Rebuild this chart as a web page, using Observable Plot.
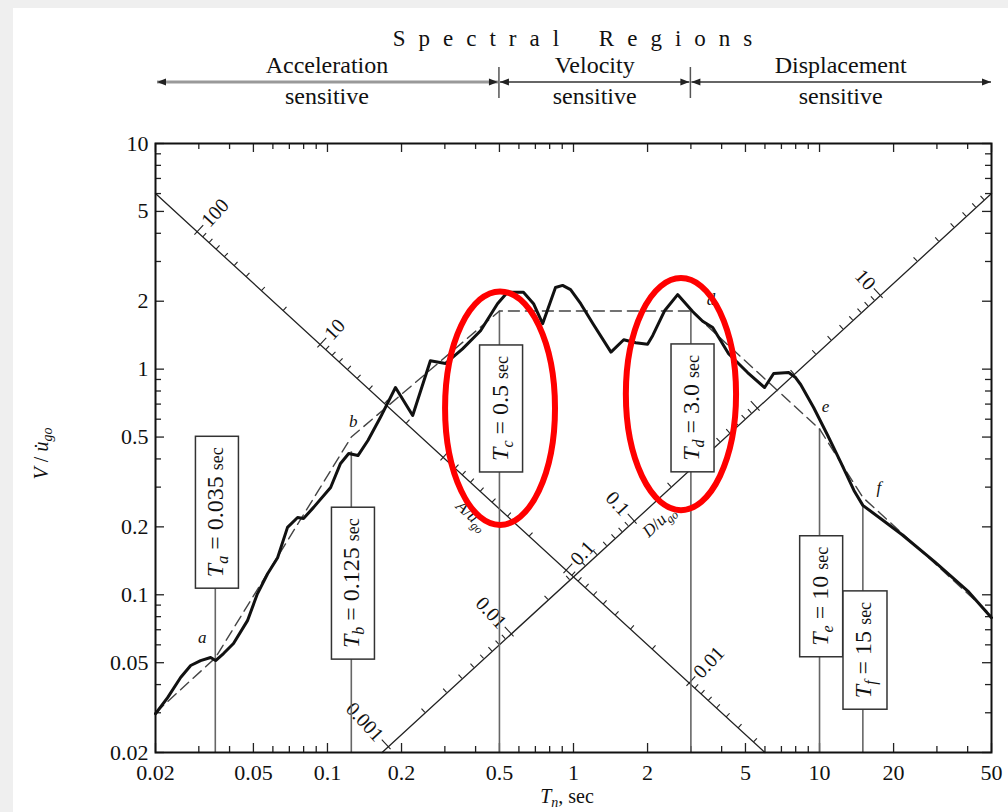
<!DOCTYPE html>
<html>
<head>
<meta charset="utf-8">
<script src="https://cdn.jsdelivr.net/npm/d3@7"></script>
<script src="https://cdn.jsdelivr.net/npm/@observablehq/plot@0.6"></script>
<style>
  html, body { margin: 0; padding: 0; background: #efefef; }
  #page { position: relative; width: 1008px; height: 812px; overflow: hidden; }
  #panel { position: absolute; left: 13px; top: 8px; right: 0; bottom: 0; background: #fff; }
  #chart { position: absolute; left: 0; top: 0; }
  #chart svg text { font-family: 'Liberation Serif', 'Times New Roman', Times, serif; }
</style>
</head>
<body>
<div id="page"><div id="panel"></div><div id="chart"></div></div>
<script>
// ---- Axis ticks ----
const periodTicks = [0.02, 0.05, 0.1, 0.2, 0.5, 1, 2, 5, 10, 20, 50];
const periodMinorTicks = [0.03, 0.04, 0.06, 0.07, 0.08, 0.09, 0.3, 0.4, 0.6, 0.7, 0.8, 0.9, 3, 4, 6, 7, 8, 9, 30, 40];
const velocityTicks = [0.02, 0.05, 0.1, 0.2, 0.5, 1, 2, 5, 10];
const velocityMinorTicks = [0.03, 0.04, 0.06, 0.07, 0.08, 0.09, 0.3, 0.4, 0.6, 0.7, 0.8, 0.9, 3, 4, 6, 7, 8, 9];

// ---- Pseudo-velocity response spectrum, V / u̇go against Tn (sec) ----
const spectrumT = [0.020, 0.0224, 0.0253, 0.0278, 0.0305, 0.0335, 0.0351, 0.0378, 0.0415, 0.0473,
  0.0519, 0.0571, 0.0627, 0.0688, 0.0756, 0.0799, 0.0878, 0.103, 0.113, 0.122,
  0.133, 0.146, 0.164, 0.189, 0.222, 0.262, 0.302, 0.354, 0.419, 0.491,
  0.539, 0.626, 0.688, 0.749, 0.845, 0.903, 0.973, 1.07, 1.20, 1.42,
  1.60, 1.79, 2.00, 2.10, 2.35, 2.65, 3.05, 3.35, 3.68, 4.27,
  5.10, 5.98, 6.51, 7.49, 7.99, 8.38, 9.46, 10.8, 12.2, 13.8,
  15.0, 18.2, 21.6, 29.4, 40.4, 50.0];
const spectrumV = [0.0297, 0.0350, 0.0430, 0.0486, 0.0511, 0.0527, 0.0511, 0.0549, 0.0608, 0.0768,
  0.101, 0.124, 0.146, 0.199, 0.220, 0.218, 0.244, 0.299, 0.382, 0.423,
  0.414, 0.483, 0.610, 0.829, 0.623, 1.09, 1.06, 1.23, 1.48, 1.95,
  2.19, 2.19, 1.95, 1.59, 2.30, 2.35, 2.25, 1.95, 1.59, 1.19,
  1.35, 1.31, 1.29, 1.41, 1.82, 2.14, 1.80, 1.63, 1.53, 1.17,
  0.966, 0.829, 0.956, 0.966, 0.918, 0.855, 0.676, 0.508, 0.386, 0.290,
  0.249, 0.213, 0.185, 0.140, 0.103, 0.0792];

// ---- Idealized spectrum (dashed) ----
const idealT = [0.02, 0.035, 0.125, 0.5, 3.0, 10, 15, 50];
const idealV = [0.030, 0.0525, 0.50, 1.81, 1.81, 0.543, 0.27, 0.081];

// ---- Corner periods a–f ----
const cornerNames = ["a", "b", "c", "d", "e", "f"];
const cornerT = [0.035, 0.125, 0.5, 3.0, 10, 15];
const cornerLabels = ["0.035", "0.125", "0.5", "3.0", "10", "15"];
const cornerRuleTop = [0.231, 0.43, 1.81, 1.81, 0.543, 0.25];
const cornerBoxV = [0.231, 0.112, 0.666, 0.67, 0.098, 0.0566];
const cornerLetterShown = [true, true, false, true, true, true];
const cornerLetterDx = [-13, 2, 0, 20, 6, 16];
const cornerLetterDy = [-20, -16, 0, -11, -22, -10];

// ---- Tripartite diagonal axes ----
const accelAxisT = [0.02, 6.0];
const accelAxisV = [6.0, 0.02];
const dispAxisT = [0.1667, 50];
const dispAxisV = [0.02, 6.0];
const axisLineK = 0.12;     // V / u̇go on the diagonals is 0.12/T or 0.12·T
const accelK = 0.088;       // A/ügo · T² along the descending diagonal
const dispK = 0.032;        // D/ugo / T² along the ascending diagonal
const accelLabels = [100, 10, 0.1, 0.01];
const dispLabels = [0.001, 0.01, 0.1, 10];

// ---- Spectral regions ----
const regionNames = ["Acceleration", "Velocity", "Displacement"];
const regionStart = [0.02, 0.5, 3];
const regionEnd = [0.5, 3, 50];

// ---- Highlighted corner periods ----
const highlightT0 = [0.302, 1.64];
const highlightT1 = [0.845, 4.60];
const highlightVTop = [2.20, 2.52];
const highlightVBottom = [0.203, 0.236];

const SERIF = "'Liberation Serif', 'Times New Roman', Times, serif";
const W = 1008, H = 812;
const M = {top: 143, right: 17, bottom: 60, left: 155};
const innerH = H - M.top - M.bottom;
const innerW = W - M.left - M.right;

const spectrum = spectrumT.map((T, i) => ({T, V: spectrumV[i]}));
const ideal = idealT.map((T, i) => ({T, V: idealV[i]}));
const corners = cornerNames.map((name, i) => ({
  name, T: cornerT[i], label: cornerLabels[i], top: cornerRuleTop[i], boxV: cornerBoxV[i], idealV: idealV[i + 1]
}));
const accelAxis = accelAxisT.map((T, i) => ({T, V: accelAxisV[i]}));
const dispAxis = dispAxisT.map((T, i) => ({T, V: dispAxisV[i]}));

// log ticks 1..9 × 10^k inside [lo, hi]
function logTicks(lo, hi) {
  const out = [];
  for (let e = -4; e <= 3; e++) for (let m = 1; m <= 9; m++) {
    const v = +(m * Math.pow(10, e)).toPrecision(3);
    if (v >= lo * 0.9999 && v <= hi * 1.0001) out.push(v);
  }
  return out;
}
const isDecade = (v) => Math.abs(Math.log10(v) - Math.round(Math.log10(v))) < 1e-6;

// Diagonal axes: ticks, numbers and names
function tripartite(index, {x, y}) {
  const g = d3.create("svg:g").attr("font-family", SERIF);
  function frameOf(T, V) {
    const p0 = [x(T[0]), y(V[0])], p1 = [x(T[1]), y(V[1])];
    const L = Math.hypot(p1[0] - p0[0], p1[1] - p0[1]);
    const u = [(p1[0] - p0[0]) / L, (p1[1] - p0[1]) / L];
    return {u, n: [u[1], -u[0]]};
  }
  const deg = (v) => Math.atan2(v[1], v[0]) * 180 / Math.PI;
  const tick = (p, n, a, b) => g.append("line")
    .attr("x1", p[0] + n[0] * a).attr("y1", p[1] + n[1] * a)
    .attr("x2", p[0] + n[0] * b).attr("y2", p[1] + n[1] * b)
    .attr("stroke", "#222").attr("stroke-width", 1.1);

  // acceleration diagonal
  const A = frameOf(accelAxisT, accelAxisV);
  const accelPoint = (a) => { const T = Math.sqrt(accelK / a); return [x(T), y(axisLineK / T)]; };
  for (const a of logTicks(0.003, 100)) {
    const major = isDecade(a);
    tick(accelPoint(a), A.n, major ? -4 : 0, major ? 9 : 5);
  }
  for (const a of accelLabels) {
    const p = accelPoint(a);
    g.append("text").attr("font-size", 20).attr("fill", "#111")
      .attr("text-anchor", "start").attr("dy", "0.35em")
      .attr("transform", `translate(${p[0] + A.n[0] * 11},${p[1] + A.n[1] * 11}) rotate(${deg(A.n)})`)
      .text(String(a));
  }
  {
    const T = 0.45, p = [x(T), y(axisLineK / T)];
    const t = g.append("text").attr("font-size", 17).attr("fill", "#111").attr("text-anchor", "middle").attr("dy", "0.35em")
      .attr("transform", `translate(${p[0] - A.n[0] * 23},${p[1] - A.n[1] * 23}) rotate(${deg(A.u)})`);
    t.append("tspan").attr("font-style", "italic").text("A");
    t.append("tspan").text("/");
    t.append("tspan").attr("font-style", "italic").text("ü");
    t.append("tspan").attr("font-style", "italic").attr("font-size", 12).attr("dy", 4).text("go");
  }

  // displacement diagonal
  const D = frameOf(dispAxisT, dispAxisV);
  const dispPoint = (d) => { const T = Math.sqrt(d / dispK); return [x(T), y(axisLineK * T)]; };
  for (const d of logTicks(0.001, 70)) {
    const major = isDecade(d);
    tick(dispPoint(d), D.n, major ? -4 : 0, major ? 9 : 5);
  }
  for (const d of dispLabels) {
    const p = dispPoint(d);
    g.append("text").attr("font-size", 20).attr("fill", "#111")
      .attr("text-anchor", "end").attr("dy", "0.35em")
      .attr("transform", `translate(${p[0] + D.n[0] * 11},${p[1] + D.n[1] * 11}) rotate(${deg(D.n) + 180})`)
      .text(String(d));
  }
  {
    const T = 2.0, p = [x(T), y(axisLineK * T)];
    const t = g.append("text").attr("font-size", 17).attr("fill", "#111").attr("text-anchor", "middle").attr("dy", "0.35em")
      .attr("transform", `translate(${p[0] - D.n[0] * 17},${p[1] - D.n[1] * 17}) rotate(${deg(D.u)})`);
    t.append("tspan").attr("font-style", "italic").text("D");
    t.append("tspan").text("/");
    t.append("tspan").attr("font-style", "italic").text("u");
    t.append("tspan").attr("font-style", "italic").attr("font-size", 12).attr("dy", 4).text("go");
  }
  return g.node();
}

// Boxed corner-period labels, written upward along each rule
function cornerBoxes(index, {x, y}) {
  const g = d3.create("svg:g").attr("font-family", SERIF);
  for (const c of corners) {
    const b = g.append("g").attr("class", "corner-box")
      .attr("transform", `translate(${x(c.T)},${y(c.boxV)}) rotate(-90)`);
    b.append("rect").attr("fill", "#fff").attr("stroke", "#333").attr("stroke-width", 1.5);
    const t = b.append("text").attr("text-anchor", "middle").attr("dy", "0.36em")
      .attr("font-size", 24).attr("fill", "#111");
    t.append("tspan").attr("font-style", "italic").text("T");
    t.append("tspan").attr("font-style", "italic").attr("font-size", 16).attr("dy", 5).text(c.name);
    t.append("tspan").attr("dy", -5).text(` = ${c.label} `);
    t.append("tspan").attr("font-size", 18).text("sec");
  }
  return g.node();
}

// Spectral regions header above the frame
function regionHeader(index, {x}, values, dims) {
  const g = d3.create("svg:g").attr("font-family", SERIF);
  const yLine = 82;
  g.append("text").attr("x", x(1) + 6).attr("y", 46).attr("text-anchor", "middle")
    .attr("font-size", 23).attr("letter-spacing", 13).attr("word-spacing", 8).attr("fill", "#111")
    .text("Spectral Regions");
  regionNames.forEach((name, i) => {
    const x0 = x(regionStart[i]) + (i === 0 ? 2 : 1);
    const x1 = x(regionEnd[i]) - (i === regionNames.length - 1 ? 0 : 1);
    g.append("line").attr("x1", x0).attr("x2", x1).attr("y1", yLine).attr("y2", yLine)
      .attr("stroke", i === 0 ? "#999" : "#333").attr("stroke-width", i === 0 ? 3 : 1.6);
    g.append("path").attr("d", `M${x0},${yLine}l9,-3.5v7z`).attr("fill", "#222");
    g.append("path").attr("d", `M${x1},${yLine}l-9,-3.5v7z`).attr("fill", "#222");
    const cx = Math.sqrt(regionStart[i] * regionEnd[i]);
    g.append("text").attr("x", x(cx)).attr("y", 73).attr("text-anchor", "middle")
      .attr("font-size", 24).attr("fill", "#111").text(name);
    g.append("text").attr("x", x(cx)).attr("y", 104).attr("text-anchor", "middle")
      .attr("font-size", 24).attr("fill", "#111").text("sensitive");
  });
  for (const b of regionStart.slice(1)) {
    g.append("line").attr("x1", x(b)).attr("x2", x(b)).attr("y1", 67).attr("y2", 98)
      .attr("stroke", "#555").attr("stroke-width", 1.5);
  }
  return g.node();
}

// Axis titles with italic symbols and subscripts
function axisTitles(index, {x}, values, dims) {
  const g = d3.create("svg:g").attr("fill", "#111").attr("font-family", SERIF);
  const yt = g.append("text").attr("text-anchor", "middle").attr("font-size", 20)
    .attr("transform", `translate(${dims.marginLeft - 107},${dims.marginTop + innerH / 2 + 6}) rotate(-90)`);
  yt.append("tspan").attr("font-style", "italic").text("V");
  yt.append("tspan").text(" / ");
  yt.append("tspan").attr("font-style", "italic").text("u\u0307");
  yt.append("tspan").attr("font-style", "italic").attr("font-size", 14).attr("dy", 4).text("go");
  const xt = g.append("text").attr("text-anchor", "middle").attr("font-size", 20)
    .attr("x", x(1) - 6).attr("y", H - 9);
  xt.append("tspan").attr("font-style", "italic").text("T");
  xt.append("tspan").attr("font-style", "italic").attr("font-size", 14).attr("dy", 4).text("n");
  xt.append("tspan").attr("dy", -4).text(", sec");
  return g.node();
}

// Red ellipses around the Tc and Td labels
function highlights(index, {x, y}) {
  const g = d3.create("svg:g");
  highlightT0.forEach((t0, i) => {
    const xa = x(t0), xb = x(highlightT1[i]);
    const ya = y(highlightVTop[i]), yb = y(highlightVBottom[i]);
    g.append("ellipse").attr("cx", (xa + xb) / 2).attr("cy", (ya + yb) / 2)
      .attr("rx", (xb - xa) / 2).attr("ry", (yb - ya) / 2)
      .attr("fill", "none").attr("stroke", "#f00").attr("stroke-width", 6);
  });
  return g.node();
}

const tickStyle = {stroke: "#222", strokeWidth: 1.3};
const labelStyle = {fontFamily: SERIF, fontSize: 22, fill: "#111"};

const chart = Plot.plot({
  width: W, height: H,
  marginTop: M.top, marginRight: M.right, marginBottom: M.bottom, marginLeft: M.left,
  style: {fontFamily: SERIF, fontSize: "22px", background: "transparent", color: "#111", overflow: "visible"},
  x: {type: "log", domain: [0.02, 50], label: null, axis: null},
  y: {type: "log", domain: [0.02, 10], label: null, axis: null},
  marks: [
    Plot.ruleX(periodTicks, {...tickStyle, insetTop: innerH - 9}),
    Plot.ruleX(periodTicks, {...tickStyle, insetBottom: innerH - 9}),
    Plot.ruleX(periodMinorTicks, {...tickStyle, insetTop: innerH - 6}),
    Plot.ruleX(periodMinorTicks, {...tickStyle, insetBottom: innerH - 6}),
    Plot.ruleY(velocityTicks, {...tickStyle, insetRight: innerW - 9}),
    Plot.ruleY(velocityTicks, {...tickStyle, insetLeft: innerW - 9}),
    Plot.ruleY(velocityMinorTicks, {...tickStyle, insetRight: innerW - 6}),
    Plot.ruleY(velocityMinorTicks, {...tickStyle, insetLeft: innerW - 6}),
    // tick labels
    Plot.text(periodTicks, {...labelStyle, x: (d) => d, text: (d) => String(d),
      frameAnchor: "bottom", lineAnchor: "top", dy: 12}),
    Plot.text(velocityTicks, {...labelStyle, y: (d) => d, text: (d) => String(d),
      frameAnchor: "left", textAnchor: "end", dx: -7}),
    Plot.line(accelAxis, {x: "T", y: "V", stroke: "#222", strokeWidth: 1.3}),
    Plot.line(dispAxis, {x: "T", y: "V", stroke: "#222", strokeWidth: 1.3}),
    tripartite,
    Plot.ruleX(corners, {x: "T", y1: 0.02, y2: "top", stroke: "#666", strokeWidth: 1.6}),
    Plot.line(ideal, {x: "T", y: "V", stroke: "#444", strokeWidth: 1.4, strokeDasharray: "11,6"}),
    Plot.line(spectrum, {x: "T", y: "V", stroke: "#111", strokeWidth: 3, strokeLinejoin: "round"}),
    ...corners.map((c, i) => cornerLetterShown[i]
      ? Plot.text([c], {x: "T", y: "idealV", text: "name", dx: cornerLetterDx[i], dy: cornerLetterDy[i],
          fontFamily: SERIF, fontStyle: "italic", fontSize: 17, fill: "#111"})
      : null),
    cornerBoxes,
    Plot.frame({stroke: "#111", strokeWidth: 2}),
    regionHeader,
    axisTitles,
    highlights
  ]
});

document.getElementById("chart").append(chart);

// size each box to its label
document.querySelectorAll(".corner-box").forEach((node) => {
  const bb = node.querySelector("text").getBBox();
  const r = node.querySelector("rect");
  r.setAttribute("x", bb.x - 11);
  r.setAttribute("y", bb.y - 7);
  r.setAttribute("width", bb.width + 22);
  r.setAttribute("height", bb.height + 14);
});
</script>
</body>
</html>
